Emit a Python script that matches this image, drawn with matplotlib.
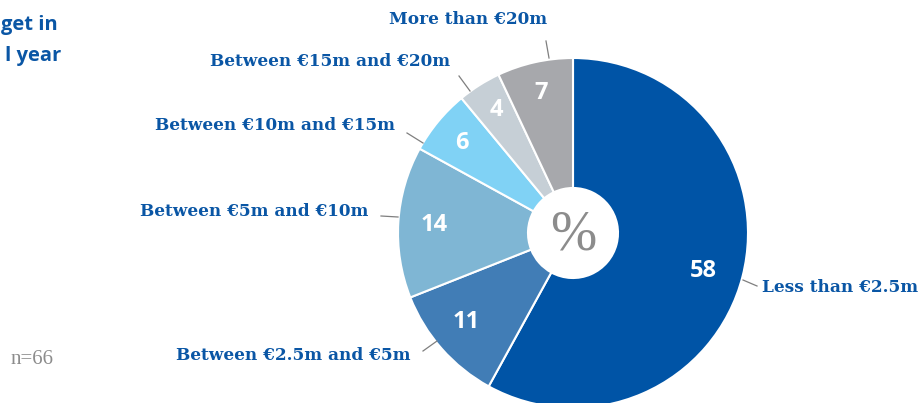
import matplotlib
matplotlib.use("Agg")
import matplotlib.pyplot as plt

# data
categories = ["Less than €2.5m", "Between €2.5m and €5m", "Between €5m and €10m",
              "Between €10m and €15m", "Between €15m and €20m", "More than €20m"]
values = [58, 11, 14, 6, 4, 7]
colors = ["#0054a6", "#417db6", "#7fb6d4", "#80d2f5", "#c6cfd6", "#a7a8ac"]
title_lines = ["get in", "l year"]
sample_note = "n=66"

W, H = 922, 403
BLUE = "#0a56a5"

fig = plt.figure(figsize=(W / 100, H / 100), dpi=100)
ax = fig.add_axes([0, 0, 1, 1])

cx, cy = 573, H - 233
R, r = 175, 45
ax.pie(values, colors=colors, startangle=90, counterclock=False,
       center=(cx, cy), radius=R,
       wedgeprops=dict(width=R - r, edgecolor="white", linewidth=1.5))

# value labels inside the ring
val_pos = [(703, 271), (466, 322), (434, 225), (462, 143), (496, 110), (541, 93)]
for v, (x, y) in zip(values, val_pos):
    ax.text(x, H - y, str(v), color="white", fontsize=17, fontweight="bold",
            family="Open Sans", ha="center", va="center")

ax.text(cx, cy - 2, "%", color="#8c8c8c", fontsize=40, family="Liberation Serif",
        ha="center", va="center")

# category labels with leader lines: (text x, text y, ha, line start, line end)
label_layout = [
    (762, 287, "left", (743, 280), (757, 286)),
    (410, 356, "right", (437, 341), (423, 351)),
    (368, 211, "right", (398, 217), (381, 216)),
    (395, 126, "right", (423, 143), (407, 133)),
    (450, 62, "right", (470, 91), (459, 76)),
    (468, 19, "center", (549, 58), (546, 41)),
]
for name, (tx, ty, ha, p0, p1) in zip(categories, label_layout):
    ax.plot([p0[0], p1[0]], [H - p0[1], H - p1[1]], color="#7f7f7f", lw=0.9)
    ax.text(tx, H - ty, name, color=BLUE, fontsize=12.2, fontweight="bold",
            family="DejaVu Serif", ha=ha, va="center")

ax.text(58, H - 25, title_lines[0], color=BLUE, fontsize=14.5, fontweight="bold",
        family="Open Sans", ha="right", va="center")
ax.text(61, H - 56, title_lines[1], color=BLUE, fontsize=14.5, fontweight="bold",
        family="Open Sans", ha="right", va="center")
ax.text(11, H - 360, sample_note, color="#8c8c8c", fontsize=15,
        family="Liberation Serif", ha="left", va="center")

ax.set_xlim(0, W)
ax.set_ylim(0, H)
ax.set_aspect("auto")
ax.axis("off")
fig.savefig("out.png", dpi=100)
